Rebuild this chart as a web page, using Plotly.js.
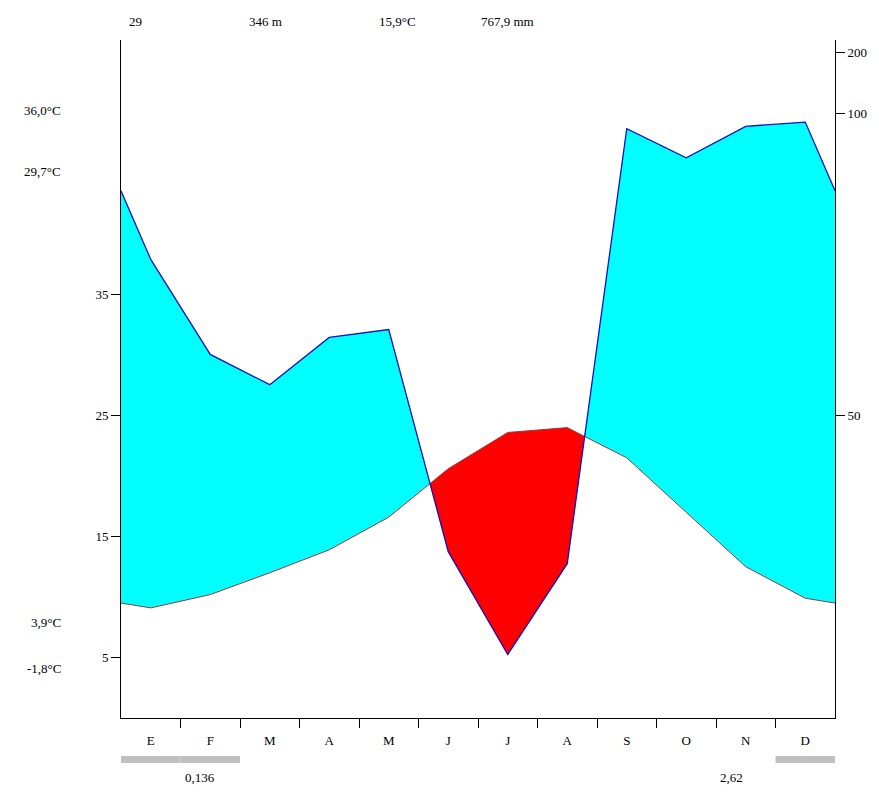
<!DOCTYPE html>
<html>
<head>
<meta charset="utf-8">
<script src="https://cdn.plot.ly/plotly-3.0.1.min.js"></script>
<style>html,body{margin:0;padding:0;background:#fff;}#chart{width:879px;height:793px;}</style>
</head>
<body>
<div id="chart"></div>
<script>
// ---- data ----
const months = ['E','F','M','A','M','J','J','A','S','O','N','D'];
const temp = [9.1, 10.2, 12.0, 13.9, 16.6, 20.6, 23.6, 24.0, 21.5, 17.0, 12.5, 9.9];
const precip = [75.8, 60.1, 55.1, 62.9, 64.2, 27.5, 10.5, 25.5, 97.4, 92.6, 97.8, 98.5];
const frostMonths = [1,1,0,0,0,0,0,0,0,0,0,1];
const headerTexts = ['29', '346 m', '15,9°C', '767,9 mm'];
const leftTexts = ['36,0°C', '29,7°C', '3,9°C', '-1,8°C'];
const bottomTexts = ['0,136', '2,62'];
const tempTicks = [5, 15, 25, 35];
const precipTicks = [50, 100, 200];

// ---- helpers ----
const toUnits = p => p <= 100 ? p / 2 : 50 + (p - 100) / 20;
const edgeT = (temp[11] + temp[0]) / 2;
const edgeP = (toUnits(precip[11]) + toUnits(precip[0])) / 2;
const bx = [0].concat(months.map((m, i) => i + 0.5), [12]);
const bT = [edgeT].concat(temp, [edgeT]);
const bP = [edgeP].concat(precip.map(toUnits), [edgeP]);

// insert crossing points
const xs = [], Ts = [], Ps = [];
for (let i = 0; i < bx.length; i++) {
  if (i > 0) {
    const d0 = bP[i-1] - bT[i-1], d1 = bP[i] - bT[i];
    if (d0 * d1 < 0) {
      const f = d0 / (d0 - d1);
      const xc = bx[i-1] + f * (bx[i] - bx[i-1]);
      const tc = bT[i-1] + f * (bT[i] - bT[i-1]);
      xs.push(xc); Ts.push(tc); Ps.push(tc);
    }
  }
  xs.push(bx[i]); Ts.push(bT[i]); Ps.push(bP[i]);
}
const upper = xs.map((x, i) => Math.max(Ts[i], Ps[i]));
const lower = xs.map((x, i) => Math.min(Ts[i], Ps[i]));

const none = {width: 0, color: 'rgba(0,0,0,0)'};
const traces = [
  {x: xs, y: Ts, mode: 'lines', line: none, hoverinfo: 'skip', showlegend: false},
  {x: xs, y: upper, mode: 'lines', line: none, fill: 'tonexty', fillcolor: '#00ffff', hoverinfo: 'skip', showlegend: false},
  {x: xs, y: Ts, mode: 'lines', line: none, hoverinfo: 'skip', showlegend: false},
  {x: xs, y: lower, mode: 'lines', line: none, fill: 'tonexty', fillcolor: '#ff0000', hoverinfo: 'skip', showlegend: false},
  {x: bx, y: bP, mode: 'lines', line: {color: '#1010c0', width: 1.3}, showlegend: false, yaxis: 'y2'},
  {x: bx, y: bT, mode: 'lines', line: {color: 'rgb(150,60,60)', width: 1}, showlegend: false}
];

const font = {family: 'Liberation Serif, Times New Roman, serif', size: 13, color: '#000'};
const plotL = 121, plotR = 835, plotT = 40, plotB = 718;
const px = x => (x - plotL) / (plotR - plotL);
const py = y => (plotB - y) / (plotB - plotT);

const annotations = [];
const headerX = [135, 265, 397, 507];
headerTexts.forEach((t, i) => annotations.push({text: t, x: px(headerX[i]), y: py(22), xref: 'paper', yref: 'paper', showarrow: false, xanchor: 'center', yanchor: 'middle', font: font}));
const leftY = [110, 172, 622, 668];
leftTexts.forEach((t, i) => annotations.push({text: t, x: px(63), y: py(leftY[i]), xref: 'paper', yref: 'paper', showarrow: false, xanchor: 'right', yanchor: 'middle', font: font}));
const bottomX = [200, 731];
bottomTexts.forEach((t, i) => annotations.push({text: t, x: px(bottomX[i]), y: py(778), xref: 'paper', yref: 'paper', showarrow: false, xanchor: 'center', yanchor: 'middle', font: font}));

const shapes = [];
frostMonths.forEach((f, i) => {
  if (f) shapes.push({type: 'rect', xref: 'x', yref: 'paper', x0: i, x1: i + 1, y0: py(763), y1: py(756), fillcolor: '#c0c0c0', line: {width: 0}});
});

const yRange = [0, (plotB - plotT) / 12.1];
const layout = {
  width: 879, height: 793,
  margin: {l: plotL, r: 879 - plotR, t: plotT, b: 793 - plotB},
  paper_bgcolor: '#fff', plot_bgcolor: '#fff',
  showlegend: false,
  font: font,
  xaxis: {
    range: [0, 12], showgrid: false, zeroline: false,
    showline: true, linecolor: '#000', linewidth: 1,
    tickmode: 'array', tickvals: months.map((m, i) => i + 0.5), ticktext: months,
    ticks: '', ticklabelstandoff: 10, tickfont: font,
    minor: {tickmode: 'array', tickvals: [1,2,3,4,5,6,7,8,9,10,11], ticks: 'outside', ticklen: 9, tickcolor: '#000', tickwidth: 1, showgrid: false}
  },
  yaxis: {
    range: yRange, showgrid: false, zeroline: false,
    showline: true, linecolor: '#000', linewidth: 1,
    tickmode: 'array', tickvals: tempTicks, ticks: 'outside', ticklen: 9, tickcolor: '#000',
    tickfont: font
  },
  yaxis2: {
    range: yRange, overlaying: 'y', side: 'right', showgrid: false, zeroline: false,
    showline: true, linecolor: '#000', linewidth: 1,
    tickmode: 'array', tickvals: precipTicks.map(toUnits), ticktext: precipTicks.map(String),
    ticks: 'outside', ticklen: 9, tickcolor: '#000', tickfont: font
  },
  annotations: annotations,
  shapes: shapes
};

Plotly.newPlot('chart', traces, layout, {displayModeBar: false, staticPlot: true});
</script>
</body>
</html>
